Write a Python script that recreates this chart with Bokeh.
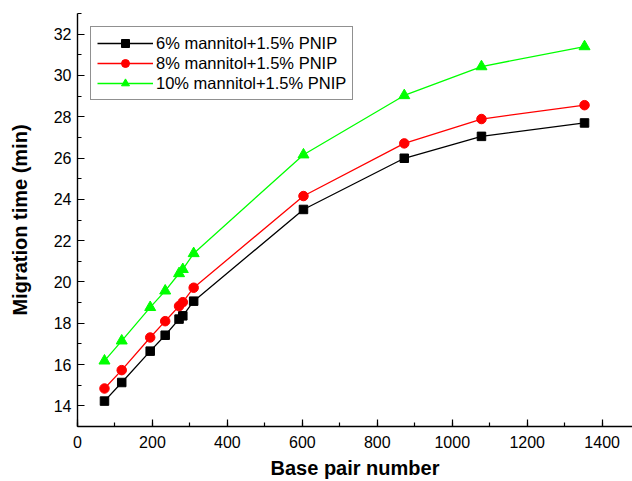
from bokeh.plotting import figure
from bokeh.models import Range1d, SingleIntervalTicker, Legend, LegendItem
from bokeh.embed import file_html
from bokeh.resources import INLINE

# Data
bp = [72, 118, 194, 234, 271, 281, 310, 603, 872, 1078, 1353]
t6 = [14.23, 15.13, 16.65, 17.42, 18.20, 18.36, 19.07, 23.51, 25.99, 27.05, 27.70]
t8 = [14.84, 15.73, 17.31, 18.10, 18.83, 19.02, 19.72, 24.16, 26.71, 27.89, 28.56]
t10 = [16.18, 17.15, 18.77, 19.57, 20.41, 20.61, 21.38, 26.16, 29.03, 30.43, 31.40]

labels = ["6% mannitol+1.5% PNIP", "8% mannitol+1.5% PNIP", "10% mannitol+1.5% PNIP"]
x_title = "Base pair number"
y_title = "Migration time (min)"

FONT = "Liberation Sans"

p = figure(width=632, height=481, output_backend="svg", toolbar_location=None,
           x_range=Range1d(0, 1481), y_range=Range1d(13, 33),
           min_border_left=77, min_border_top=13, min_border_right=0, min_border_bottom=0)
p.outline_line_color = None
p.xgrid.visible = False
p.ygrid.visible = False
p.background_fill_color = "white"
p.border_fill_color = "white"

p.xaxis.ticker = SingleIntervalTicker(interval=200, num_minor_ticks=2)
p.yaxis.ticker = SingleIntervalTicker(interval=2, num_minor_ticks=2)

for ax in (p.xaxis, p.yaxis):
    ax.axis_line_color = "black"
    ax.axis_line_width = 1.4
    ax.major_tick_line_color = "black"
    ax.minor_tick_line_color = "black"
    ax.major_tick_line_width = 1.2
    ax.minor_tick_line_width = 1.2
    ax.major_tick_in = 7
    ax.major_tick_out = 0
    ax.minor_tick_in = 4
    ax.minor_tick_out = 0
    ax.major_label_text_font = FONT
    ax.major_label_text_font_size = "16px"
    ax.major_label_text_color = "black"
    ax.axis_label_text_font = FONT
    ax.axis_label_text_font_size = "20px"
    ax.axis_label_text_font_style = "bold"
    ax.axis_label_text_color = "black"

p.xaxis.axis_label = x_title
p.yaxis.axis_label = y_title
p.xaxis.major_label_standoff = 9
p.xaxis.axis_label_standoff = 6
p.yaxis.major_label_standoff = 6
p.yaxis.axis_label_standoff = 20

series = [
    (t6, "black", "square", 8.5),
    (t8, "#FF0000", "circle", 9.5),
    (t10, "#00FF00", "triangle", 11),
]
items = []
for (vals, col, mk, sz), lab in zip(series, labels):
    r1 = p.line(bp, vals, line_color=col, line_width=1.3)
    r2 = p.scatter(bp, vals, marker=mk, size=sz, fill_color=col, line_color=col)
    items.append(LegendItem(label=lab, renderers=[r1, r2]))

legend = Legend(items=items, location="top_left", margin=13,
                padding=6, spacing=0, glyph_width=56, glyph_height=20,
                label_height=20, label_standoff=3,
                label_text_font=FONT, label_text_font_size="16.5px",
                label_text_color="black",
                border_line_color="#222222", border_line_width=1.2,
                background_fill_color="white", background_fill_alpha=1.0)
p.add_layout(legend, "center")

open("out.html", "w").write(file_html(p, INLINE))
